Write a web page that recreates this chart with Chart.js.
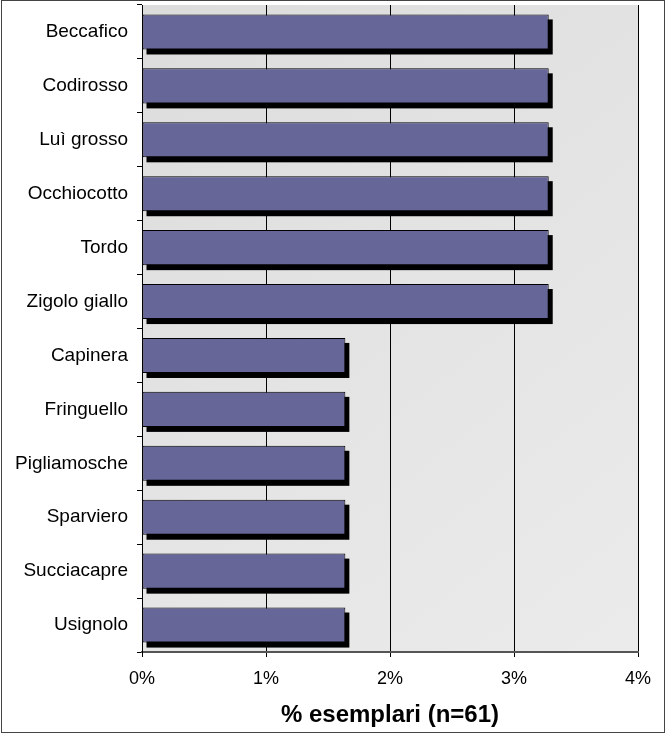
<!DOCTYPE html>
<html>
<head>
<meta charset="utf-8">
<script src="https://cdn.jsdelivr.net/npm/chart.js@4.4.0/dist/chart.umd.min.js"></script>
<style>
  body { margin: 0; background: #fff; }
  #box { position: absolute; left: 1px; top: 0; width: 662px; height: 731px; border: 1px solid #444; }
  #grafica { position: absolute; left: 0; top: 0; }
</style>
</head>
<body>
<div id="box"></div>
<canvas id="grafica" width="668" height="733"></canvas>
<script>
// dati: % esemplari (n=61)
const specie = ['Beccafico', 'Codirosso', 'Luì grosso', 'Occhiocotto', 'Tordo', 'Zigolo giallo',
  'Capinera', 'Fringuello', 'Pigliamosche', 'Sparviero', 'Succiacapre', 'Usignolo'];
const percentuali = [3.28, 3.28, 3.28, 3.28, 3.28, 3.28, 1.64, 1.64, 1.64, 1.64, 1.64, 1.64];
const tickAsse = [0, 1, 2, 3, 4];
const titoloAsse = '% esemplari (n=61)';

const FONT = 'Arial, "Liberation Sans", sans-serif';

// sfondo grigio chiaro tipo marmo + ombra nera delle barre
const sfondoOmbre = {
  id: 'sfondoOmbre',
  beforeDraw(chart) {
    const { ctx, chartArea: a } = chart;
    ctx.save();
    const g = ctx.createLinearGradient(a.left, a.top, a.right, a.bottom);
    g.addColorStop(0, '#dcdcdc');
    g.addColorStop(0.5, '#e4e4e4');
    g.addColorStop(1, '#ebebeb');
    ctx.fillStyle = g;
    ctx.fillRect(a.left, a.top, a.right - a.left, a.bottom - a.top);
    ctx.restore();
  },
  beforeDatasetsDraw(chart) {
    const { ctx } = chart;
    const meta = chart.getDatasetMeta(0);
    ctx.save();
    ctx.fillStyle = '#000';
    meta.data.forEach(bar => {
      const h = bar.height;
      ctx.fillRect(bar.base + 4, bar.y - h / 2 + 5, bar.x - bar.base, h);
    });
    ctx.restore();
  }
};

new Chart(document.getElementById('grafica'), {
  type: 'bar',
  data: {
    labels: specie,
    datasets: [{
      data: percentuali,
      backgroundColor: '#666699',
      borderColor: '#000000',
      borderWidth: 1,
      borderSkipped: false,
      barPercentage: 0.65,
      categoryPercentage: 1
    }]
  },
  options: {
    indexAxis: 'y',
    responsive: false,
    animation: false,
    devicePixelRatio: 1,
    layout: { padding: { top: 5, right: 30, bottom: 0, left: 0 } },
    plugins: { legend: { display: false }, tooltip: { enabled: false } },
    scales: {
      x: {
        min: 0, max: 4,
        afterBuildTicks: s => { s.ticks = tickAsse.map(v => ({ value: v })); },
        afterFit: s => { s.height = 81; },
        ticks: { color: '#000', font: { family: FONT, size: 18 }, padding: 11, callback: v => v + '%' },
        grid: { color: '#000', lineWidth: 1, tickLength: 5, drawOnChartArea: true },
        border: { color: '#555', width: 2 },
        title: { display: true, text: titoloAsse, color: '#000', font: { family: FONT, size: 24, weight: 'bold' }, padding: { top: 0, bottom: 3 } }
      },
      y: {
        afterFit: s => { s.width = 142; s.paddingTop = 0; s.paddingBottom = 0; },
        ticks: { color: '#000', font: { family: FONT, size: 19 }, padding: 9, autoSkip: false },
        grid: { display: true, drawOnChartArea: false, tickLength: 5, color: '#000', offset: true },
        border: { color: '#000', width: 1 }
      }
    }
  },
  plugins: [sfondoOmbre]
});
</script>
</body>
</html>
